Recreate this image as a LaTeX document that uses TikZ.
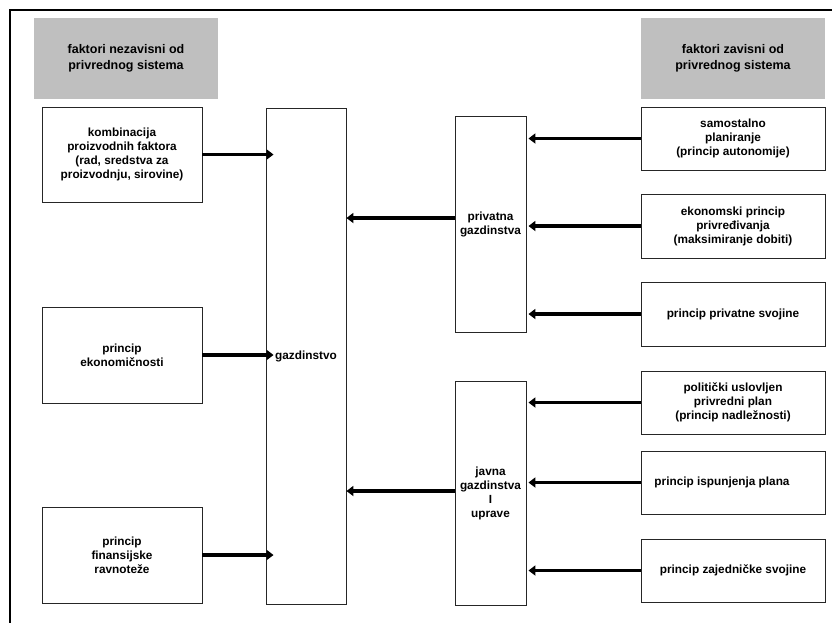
\documentclass[tikz,border=0pt]{standalone}
\usepackage{fontspec}
\setmainfont{Liberation Sans}
\usetikzlibrary{arrows.meta}
\begin{document}
\begin{tikzpicture}[x=1pt,y=-1pt,
  box/.style={draw=black!85, line width=0.9pt, fill=white, inner sep=0pt, align=center,
    font=\bfseries\fontsize{11.8}{14}\selectfont},
  head/.style={fill=black!25, inner sep=0pt, align=center,
    font=\bfseries\fontsize{12.5}{16.5}\selectfont},
  flow/.style={line width=3.8pt, -{Triangle[length=7pt,width=10pt]}},
]
\useasboundingbox (0,0) rectangle (832,622);
% outer frame
\draw[line width=1.5pt] (10,640) -- (10,10) -- (850,10);

% column headings
\node[head, minimum width=184, minimum height=81] (hl) at (126,58.5)
  {faktori nezavisni od\\privrednog sistema};
\node[head, minimum width=184, minimum height=81] (hr) at (733,58.5)
  {faktori zavisni od\\privrednog sistema};

% left column
\node[box, minimum width=160, minimum height=95] (l1) at (122,154.5)
  {kombinacija\\proizvodnih faktora\\(rad, sredstva za\\proizvodnju, sirovine)};
\node[box, minimum width=160, minimum height=96] (l2) at (122,355)
  {princip\\ekonomičnosti};
\node[box, minimum width=160, minimum height=96] (l3) at (122,555)
  {princip\\finansijske\\ravnoteže};

% central column
\node[box, minimum width=80, minimum height=496] (gaz) at (306,356) {gazdinstvo};
\node[box, minimum width=71, minimum height=216] (priv) at (490.5,224)
  {privatna\\gazdinstva};
\node[box, minimum width=71, minimum height=224] (jav) at (490.5,493)
  {javna\\gazdinstva\\I\\uprave};

% right column
\node[box, minimum width=184, minimum height=63] (r1) at (733,138.5)
  {samostalno\\planiranje\\(princip autonomije)};
\node[box, minimum width=184, minimum height=64] (r2) at (733,226)
  {ekonomski princip\\privređivanja\\(maksimiranje dobiti)};
\node[box, minimum width=184, minimum height=64] (r3) at (733,314)
  {princip privatne svojine};
\node[box, minimum width=184, minimum height=63] (r4) at (733,402.5)
  {politički uslovljen\\privredni plan\\(princip nadležnosti)};
\node[box, minimum width=184, minimum height=63] (r5) at (733,482.5)
  {princip ispunjenja plana\hspace*{22pt}};
\node[box, minimum width=184, minimum height=63] (r6) at (733,570.5)
  {princip zajedničke svojine};

% connectors
\coordinate (yp) at (0,218);
\coordinate (yj) at (0,491);
\foreach \n in {l1,l2,l3}
  \draw[flow] (\n.east) -- ([xshift=8pt]gaz.west |- \n.east);
\draw[flow] (priv.west |- yp) -- (gaz.east |- yp);
\draw[flow] (jav.west |- yj) -- (gaz.east |- yj);
\foreach \n in {r1,r2,r3}
  \draw[flow] (\n.west) -- ([xshift=2pt]priv.east |- \n.west);
\foreach \n in {r4,r5,r6}
  \draw[flow] (\n.west) -- ([xshift=2pt]jav.east |- \n.west);
\end{tikzpicture}
\end{document}
